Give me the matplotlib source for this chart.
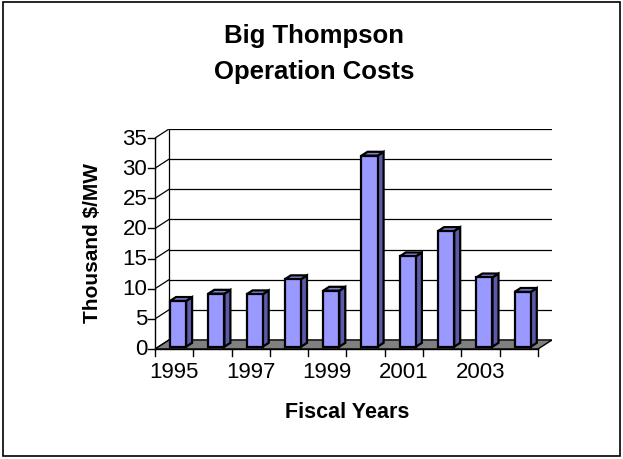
import matplotlib
matplotlib.use("Agg")
import matplotlib.pyplot as plt
from matplotlib.patches import Polygon, Rectangle

plt.rcParams['font.family'] = ['Liberation Sans', 'DejaVu Sans']

years = [1995, 1996, 1997, 1998, 1999, 2000, 2001, 2002, 2003, 2004]
values = [7.6, 8.8, 8.7, 11.2, 9.3, 31.7, 15.0, 19.2, 11.5, 9.1]
tick_labels = ['1995', '1997', '1999', '2001', '2003']
y_ticks = [0, 5, 10, 15, 20, 25, 30, 35]

title = 'Big Thompson\nOperation Costs'
xlabel = 'Fiscal Years'
ylabel = 'Thousand $/MW'

# 3-D look parameters (in data units)
DX, DY = 0.366, 1.5          # full depth offset of the chart box
BAR_F0, BAR_F1 = 0.25, 0.68  # bar depth from/to as fraction of the box depth
BAR_L, BAR_W = 0.30, 0.42    # bar left / width inside category
YMAX = 35
n = len(values)

front_c = '#9999FF'
side_c = '#5A5AA8'
top_c = '#8080D0'
floor_c = '#808080'

fig = plt.figure(figsize=(6.23, 4.60), dpi=100)
fig.patch.set_facecolor('white')
# outer border
fig.add_artist(Rectangle((3/623, 3/460), 617/623, 454/460, transform=fig.transFigure,
                         fill=False, edgecolor='black', linewidth=1.2))

ax = fig.add_axes([155/623, 110/460, 397/623, 220/460])
ax.set_xlim(0, n + DX)
ax.set_ylim(0, YMAX + DY)
ax.axis('off')

# floor
ax.add_patch(Polygon([(0, 0), (n, 0), (n + DX, DY), (DX, DY)], closed=True,
                     facecolor=floor_c, edgecolor='black', linewidth=1.0, zorder=1))
# back wall gridlines and side wall diagonals
for t in y_ticks:
    ax.plot([DX, n + DX], [t + DY, t + DY], color='black', linewidth=0.9, zorder=0.5)
    ax.plot([0, DX], [t, t + DY], color='black', linewidth=0.9, zorder=0.5)
# back wall left edge
ax.plot([DX, DX], [DY, YMAX + DY], color='black', linewidth=0.9, zorder=0.5)
# front vertical axis
ax.plot([0, 0], [0, YMAX], color='black', linewidth=1.0, zorder=2, clip_on=False)
for t in y_ticks:
    ax.plot([-0.18, 0], [t, t], color='black', linewidth=1.0, clip_on=False)
    ax.text(-0.2, t, str(t), ha='right', va='center', fontsize=16)

# bottom axis ticks
ax.plot([0, n], [0, 0], color='black', linewidth=1.0, zorder=2, clip_on=False)
for i in range(n + 1):
    ax.plot([i, i], [0, -1.1], color='black', linewidth=1.0, clip_on=False)
for k, lab in enumerate(tick_labels):
    ax.text(2 * k + 0.5, -3.8, lab, ha='center', va='center', fontsize=16)

# bars
x0s = [i + BAR_L + BAR_F0 * DX for i in range(n)]
y0 = BAR_F0 * DY
bdx = (BAR_F1 - BAR_F0) * DX
bdy = (BAR_F1 - BAR_F0) * DY
ax.bar(x0s, values, width=BAR_W, bottom=y0, align='edge', color=front_c,
       edgecolor='black', linewidth=1.6, zorder=3)
for x0, v in zip(x0s, values):
    side = [(x0 + BAR_W, y0), (x0 + BAR_W + bdx, y0 + bdy),
            (x0 + BAR_W + bdx, y0 + v + bdy), (x0 + BAR_W, y0 + v)]
    top = [(x0, y0 + v), (x0 + BAR_W, y0 + v),
           (x0 + BAR_W + bdx, y0 + v + bdy), (x0 + bdx, y0 + v + bdy)]
    ax.add_patch(Polygon(side, closed=True, facecolor=side_c, edgecolor='black',
                         linewidth=1.6, zorder=2.9))
    ax.add_patch(Polygon(top, closed=True, facecolor=top_c, edgecolor='black',
                         linewidth=1.6, zorder=2.9))

fig.text(314/623, 1 - 54/460, title, ha='center', va='center', fontsize=18.5,
         fontweight='bold', linespacing=1.65)
fig.text(347/623, 1 - 412/460, xlabel, ha='center', va='center', fontsize=15.5,
         fontweight='bold')
fig.text(93/623, 1 - 243/460, ylabel, ha='center', va='center', fontsize=15,
         fontweight='bold', rotation=90)

fig.savefig('out.png', dpi=100)
